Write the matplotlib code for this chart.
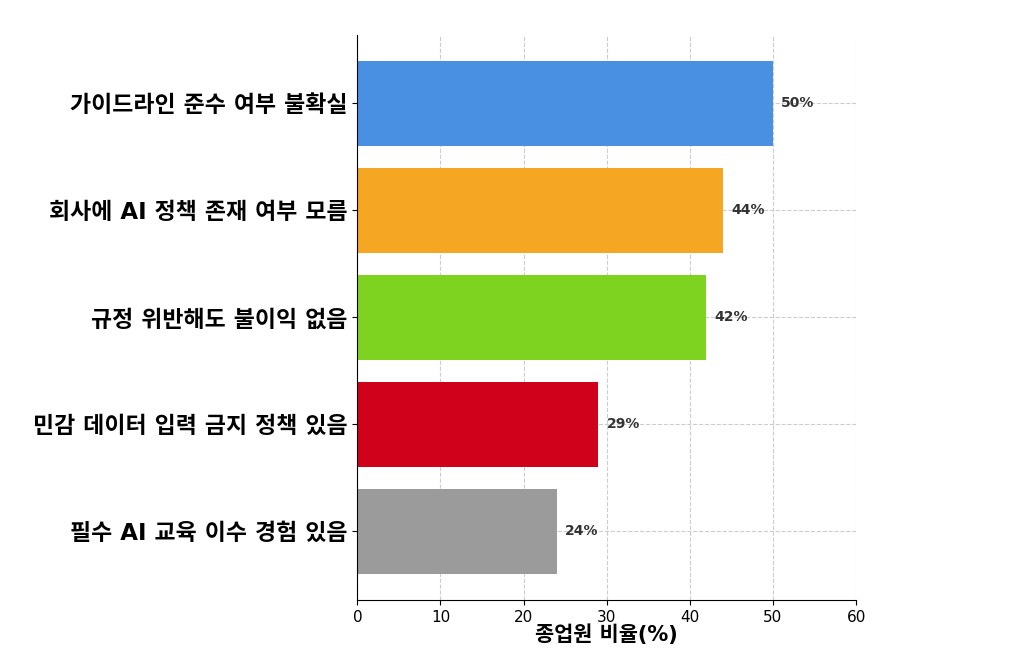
import matplotlib
matplotlib.use("Agg")
import matplotlib.pyplot as plt

plt.rcParams['font.family'] = ['DejaVu Sans', 'Noto Sans CJK KR']

categories = ["가이드라인 준수 여부 불확실", "회사에 AI 정책 존재 여부 모름", "규정 위반해도 불이익 없음",
              "민감 데이터 입력 금지 정책 있음", "필수 AI 교육 이수 경험 있음"]
values = [50, 44, 42, 29, 24]
colors = ["#4A90E2", "#F5A623", "#7ED321", "#D0021B", "#9B9B9B"]

fig = plt.figure(figsize=(10.24, 6.57), dpi=100)
ax = fig.add_axes([0.349, 0.087, 0.487, 0.86])
ypos = list(range(len(categories)))[::-1]
ax.barh(ypos, values, color=colors, height=0.8, zorder=2)
for y, v in zip(ypos, values):
    ax.text(v + 1, y, f"{v}%", va='center', ha='left', fontsize=10, fontweight='bold', color='#333333')
ax.set_yticks(ypos)
ax.set_yticklabels(categories, fontsize=16.5, fontweight='bold')
ax.set_xlim(0, 60)
ax.set_xlabel("종업원 비율(%)", fontsize=15, fontweight='bold', labelpad=0)
ax.tick_params(axis='x', labelsize=11)
ax.grid(True, linestyle='--', color='#cccccc', linewidth=0.8, zorder=0)
ax.set_axisbelow(True)
for s in ['top', 'right']:
    ax.spines[s].set_visible(False)
fig.savefig("out.png", dpi=100)
